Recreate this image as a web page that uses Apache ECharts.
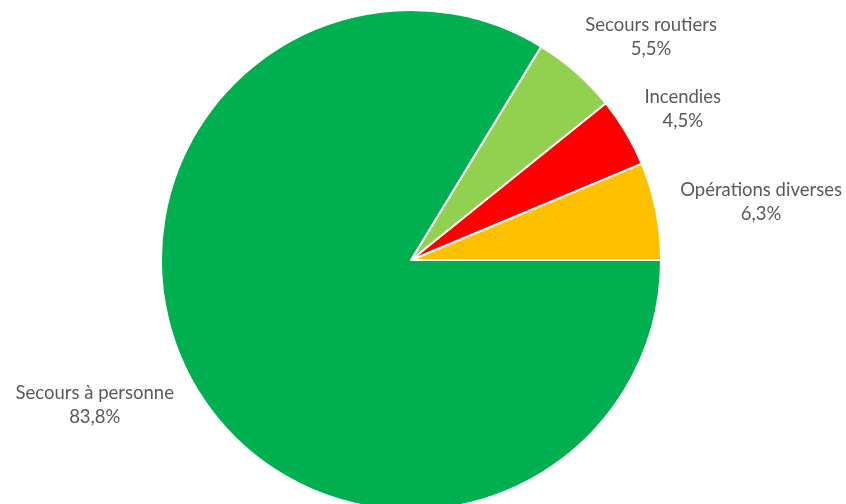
<!DOCTYPE html>
<html>
<head>
<meta charset="utf-8">
<script src="https://cdn.jsdelivr.net/npm/echarts@6/dist/echarts.min.js"></script>
<style>
  html, body { margin: 0; padding: 0; background: #fff; }
  #chart { width: 846px; height: 504px; }
</style>
</head>
<body>
<div id="chart"></div>
<script>
// parts in %, counterclockwise from 3 o'clock
var categories = ['Opérations diverses', 'Incendies', 'Secours routiers', 'Secours à personne'];
var values = [6.3, 4.5, 5.5, 83.8];
var colors = ['#FFC000', '#FF0000', '#92D050', '#00B050'];

(function(){
    var mycharts = echarts.init(document.getElementById('chart'));
    var data = categories.map(function(c, i){
        return { name: c, value: values[i], itemStyle: { color: colors[i] } };
    });
    var option = {
        animation: false,
        series: [
          {
            type: 'pie',
            center: [411, 260],
            radius: 250,
            startAngle: 0,
            clockwise: false,
            avoidLabelOverlap: false,
            itemStyle: {
              borderColor: '#fff',
              borderWidth: 2
            },
            label: {
              show: true,
              position: 'outside',
              fontFamily: 'Lato',
              fontSize: 18.5,
              lineHeight: 24,
              color: '#595959',
              formatter: function(p){
                return p.name + '\n' + p.value.toFixed(1).replace('.', ',') + '%';
              }
            },
            labelLine: { show: false, length: 46, length2: 0 },
            // centre the two lines of text like the original
            labelLayout: function(p){
              var half = p.labelRect.width / 2 - 26;
              return { align: 'center', dx: p.align === 'right' ? -half : half };
            },
            data: data
          }
        ]
    };
    mycharts.setOption(option);
})();
</script>
</body>
</html>
